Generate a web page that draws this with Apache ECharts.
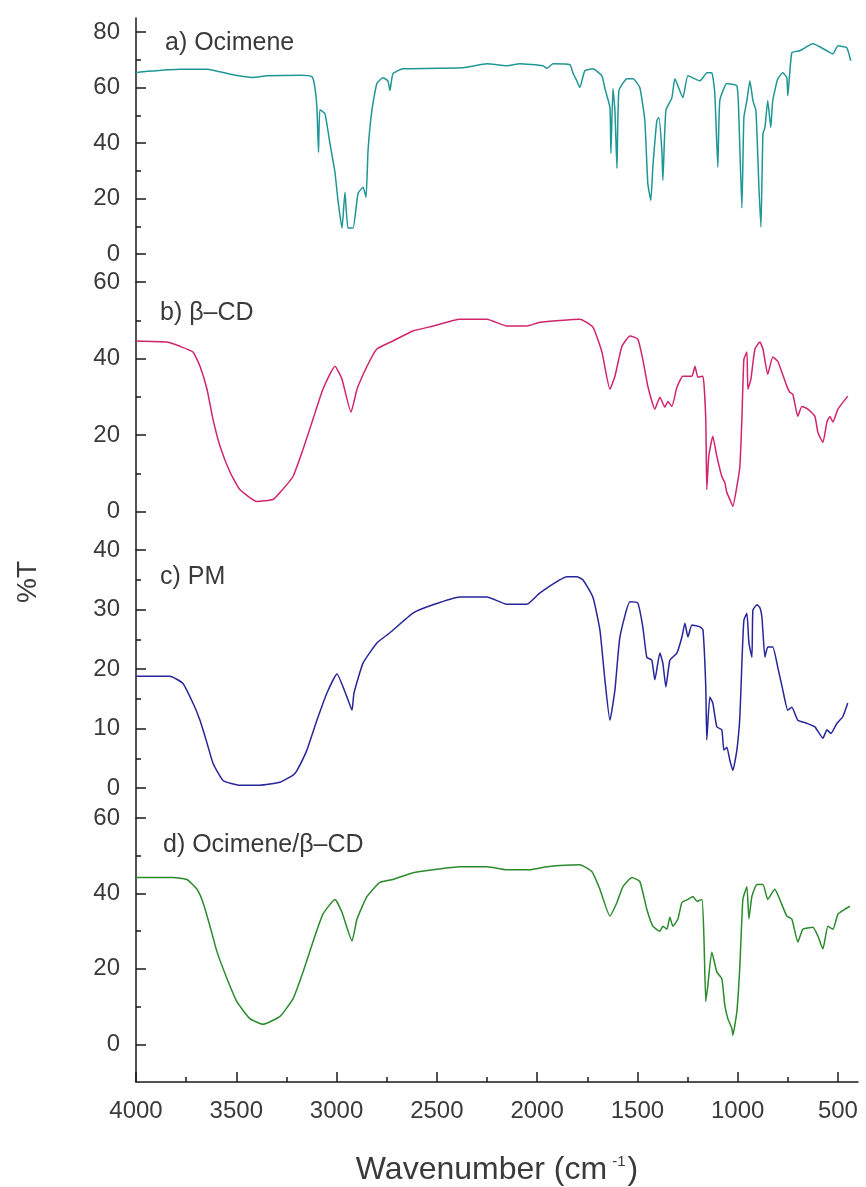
<!DOCTYPE html>
<html>
<head>
<meta charset="utf-8">
<script src="https://cdn.jsdelivr.net/npm/echarts@6/dist/echarts.min.js"></script>
<style>
  html, body { margin: 0; padding: 0; background: #ffffff; }
  #chart { width: 866px; height: 1187px; }
</style>
</head>
<body>
<div id="chart"></div>
<script>
// ---- data (wavenumber cm-1, %T) ----
const panelLabels = ['a) Ocimene', 'b) \u03b2\u2013CD', 'c) PM', 'd) Ocimene/\u03b2\u2013CD'];

const ocimene = [[4000,65.3],[3945,65.8],[3781,66.6],[3646,66.6],[3516,64.6],[3417,63.6],[3347,64.2],[3182,64.4],[3123,63.9],[3108,60],[3098,52.8],[3090,36.6],[3083,52],[3058,50.6],[3033,39.9],[3008,29.5],[2993,19.4],[2973,9.4],[2958,22.3],[2943,9.4],[2918,9.4],[2893,21.9],[2868,24.1],[2853,20.5],[2843,37.3],[2824,51.7],[2799,61.4],[2769,63.5],[2744,62.4],[2734,58.9],[2719,64.9],[2669,66.7],[2370,67.1],[2250,68.5],[2151,67.8],[2086,68.5],[1971,67.8],[1951,66.9],[1921,68.5],[1836,68.2],[1822,65.3],[1802,62.4],[1787,60],[1762,66],[1722,66.7],[1677,64.2],[1662,59.6],[1637,52.8],[1632,36.3],[1622,59.6],[1612,51.7],[1602,30.9],[1592,58.9],[1552,63.1],[1522,63.1],[1488,60],[1463,48.1],[1448,25.5],[1433,19.4],[1423,31.3],[1403,48.1],[1393,49.2],[1378,37.3],[1373,26.6],[1358,51.7],[1328,56.3],[1313,63.1],[1273,56.3],[1248,64.2],[1188,62.4],[1153,65.3],[1129,65.3],[1114,57.8],[1099,31.3],[1089,55.3],[1054,61.4],[1004,60.6],[994,49.2],[979,16.6],[969,49.2],[954,55.3],[939,62.4],[924,55.3],[909,51.7],[894,24.1],[884,9.8],[874,43.4],[864,45.6],[850,55.3],[835,45.6],[825,55.3],[800,63.1],[775,65.3],[755,63.5],[750,57],[730,72.5],[690,73.2],[625,75.7],[555,73.2],[525,72.1],[500,75],[456,74.3],[436,69.6]];

const betaCD = [[4000,44.6],[3845,44.3],[3781,43.2],[3716,41.7],[3681,38],[3646,32],[3616,24.1],[3581,17.1],[3531,10.3],[3482,5.8],[3397,2.7],[3317,3.2],[3282,5],[3217,9.2],[3167,16.3],[3118,24.1],[3068,32],[3008,38],[2973,34.6],[2928,26],[2898,32],[2848,38],[2799,42.5],[2719,44.6],[2619,47.2],[2519,48.5],[2385,50.3],[2250,50.3],[2151,48.5],[2051,48.5],[1986,49.5],[1787,50.3],[1722,48.2],[1677,41.7],[1637,32],[1612,35.4],[1577,43.2],[1537,45.9],[1498,45.1],[1473,39.8],[1448,32.8],[1413,26.8],[1388,29.9],[1363,27.3],[1348,28.8],[1328,27.5],[1303,32.5],[1273,35.4],[1228,35.4],[1213,38],[1198,35.1],[1173,35.4],[1159,24.1],[1154,5.8],[1144,14.5],[1124,19.7],[1104,14.5],[1079,9.2],[1064,7.6],[1054,5],[1039,3.2],[1024,1.4],[1004,6.6],[989,11.8],[979,24.1],[969,39.8],[954,41.7],[949,32],[934,34.6],[914,42.5],[889,44.3],[874,42.5],[850,35.9],[825,40.4],[800,39.3],[755,32.8],[740,31.2],[725,30.7],[700,24.9],[680,27.5],[650,26.8],[615,24.9],[600,20.7],[575,18.1],[555,23.4],[540,24.9],[525,23.4],[500,26.8],[451,30.2]];

const physicalMix = [[4000,18.8],[3831,18.8],[3766,17.6],[3716,14.3],[3681,11.4],[3646,7.6],[3616,4.2],[3566,1.3],[3482,0.5],[3382,0.5],[3282,1],[3217,2.2],[3197,3],[3148,6.4],[3098,11.4],[3048,16],[2998,19.2],[2948,15.3],[2923,13.1],[2913,16],[2868,21],[2799,24.4],[2734,26.1],[2619,29.4],[2519,30.8],[2385,32.1],[2250,32.1],[2151,30.9],[2051,30.9],[1986,32.8],[1851,35.5],[1802,35.5],[1772,35],[1722,32.1],[1687,26.6],[1662,18.2],[1637,11.4],[1612,16.5],[1587,25.4],[1537,31.3],[1498,31.1],[1473,27.1],[1453,22],[1428,21.5],[1413,18.2],[1388,22.7],[1373,21],[1358,17],[1338,21.5],[1303,22.7],[1278,25.4],[1263,27.7],[1248,25.4],[1228,27.4],[1188,27.1],[1173,26.6],[1159,17],[1154,8.1],[1139,15.3],[1124,14.3],[1104,10.3],[1079,9.8],[1069,6.4],[1054,6.9],[1039,4.7],[1024,3],[1004,6.4],[989,12],[979,21],[969,28.2],[954,29.4],[944,24.4],[929,22],[924,29.9],[904,30.8],[889,30.3],[879,28.7],[864,22],[850,23.7],[825,23.7],[800,20.3],[775,16.5],[750,13.1],[730,13.6],[700,11.4],[655,10.9],[615,10.3],[575,8.4],[555,9.8],[535,9.2],[505,10.9],[476,12],[451,14.3]];

const inclusion = [[4000,44.2],[3816,44.2],[3746,43.7],[3696,41.1],[3666,37.6],[3631,31.3],[3596,24.5],[3546,17.4],[3497,11.3],[3432,6.8],[3367,5.3],[3282,7.4],[3217,12.1],[3167,19.2],[3118,27.1],[3068,34.5],[3008,38.4],[2973,35],[2923,27.4],[2898,33.2],[2848,39.2],[2784,42.9],[2719,43.7],[2619,45.5],[2519,46.3],[2385,47.1],[2250,47.1],[2151,46.3],[2036,46.3],[1951,47.1],[1787,47.6],[1727,45.8],[1687,41.1],[1637,34],[1602,37.6],[1572,41.8],[1527,44.2],[1488,43.2],[1453,35.8],[1423,31.3],[1388,30],[1373,31.3],[1353,30.5],[1338,33.7],[1323,31.3],[1298,33.2],[1278,37.6],[1248,38.4],[1223,39.2],[1203,37.9],[1178,38.4],[1168,27.9],[1159,11.3],[1149,15.5],[1129,24.5],[1104,19.2],[1079,17.4],[1064,10.3],[1049,6.8],[1029,4.2],[1024,2.4],[1004,8.7],[989,20.8],[974,38.4],[954,41.8],[944,33.2],[929,39.2],[904,42.4],[874,42.4],[850,38.4],[815,41.1],[790,38.4],[755,34],[730,33.2],[700,27.1],[675,30.5],[625,31],[600,28.7],[575,25.3],[550,31.3],[525,30.5],[500,34.5],[466,35.8],[441,36.6]];

// tick labels
const xMajorTicks = [500, 1000, 1500, 2000, 2500, 3000, 3500, 4000];
const xMinorTicks = [750, 1250, 1750, 2250, 2750, 3250, 3750];
const yMajorA = [0, 20, 40, 60, 80];
const yMinorA = [10, 30, 50, 70];
const yMajorB = [0, 20, 40, 60];
const yMinorB = [-10, 10, 30, 50];
const yMajorC = [0, 10, 20, 30, 40];
const yMinorC = [5, 15, 25, 35];
const yMajorD = [0, 20, 40, 60];
const yMinorD = [10, 30, 50];

// ---- layout ----
const LEFT = 136, RIGHT = 8;
const grids = [
  { top: 18,  height: 264, min: -10, max: 85, major: yMajorA, minor: yMinorA },
  { top: 282, height: 268, min: -10, max: 60, major: yMajorB, minor: yMinorB },
  { top: 550, height: 268, min: -5,  max: 40, major: yMajorC, minor: yMinorC },
  { top: 818, height: 266, min: -10, max: 60, major: yMajorD, minor: yMinorD }
];
const colors = ['#1f9696', '#d0246f', '#26269a', '#2b8a2b'];
const seriesData = [ocimene, betaCD, physicalMix, inclusion];
const AXIS_COLOR = '#1a1a1a';
const LABEL_COLOR = '#3a3a3a';
const FONT = 'Liberation Sans, Arial, sans-serif';

const gridOpt = grids.map(g => ({ left: LEFT, right: RIGHT, top: g.top, height: g.height, containLabel: false }));

const xAxes = grids.map((g, i) => ({
  type: 'value', gridIndex: i, min: 400, max: 4000, inverse: true,
  show: i === 3,
  axisLine: { show: true, onZero: false, lineStyle: { color: AXIS_COLOR, width: 1.5 } },
  axisTick: { show: true, inside: true, length: 10, lineStyle: { color: AXIS_COLOR, width: 1.5 }, customValues: xMajorTicks },
  axisLabel: { show: true, customValues: xMajorTicks, formatter: v => String(v), margin: 17, color: LABEL_COLOR, fontSize: 24, fontFamily: FONT },
  splitLine: { show: false },
  name: i === 3 ? '{a|Wavenumber (cm}{s|-1}{a|)}' : '',
  nameLocation: 'middle', nameGap: 72,
  nameTextStyle: { rich: {
    a: { fontSize: 32, fontFamily: FONT, color: LABEL_COLOR },
    s: { fontSize: 15, fontFamily: FONT, color: LABEL_COLOR, verticalAlign: 'top', padding: [0, 2, 0, 5] }
  } }
}));
xAxes.push({
  type: 'value', gridIndex: 3, min: 400, max: 4000, inverse: true, position: 'bottom',
  axisLine: { show: false, onZero: false },
  axisTick: { show: true, inside: true, length: 5, lineStyle: { color: AXIS_COLOR, width: 1.5 }, customValues: xMinorTicks },
  axisLabel: { show: false },
  splitLine: { show: false }
});

const yAxes = grids.map((g, i) => ({
  type: 'value', gridIndex: i, min: g.min, max: g.max, position: 'left',
  axisLine: { show: true, onZero: false, lineStyle: { color: AXIS_COLOR, width: 1.5 } },
  axisTick: { show: true, inside: true, length: 10, lineStyle: { color: AXIS_COLOR, width: 1.5 }, customValues: g.major },
  axisLabel: { show: true, customValues: g.major, margin: 16, color: LABEL_COLOR, fontSize: 24, fontFamily: FONT },
  splitLine: { show: false }
}));
grids.forEach((g, i) => {
  yAxes.push({
    type: 'value', gridIndex: i, min: g.min, max: g.max, position: 'left', offset: 0,
    axisLine: { show: false, onZero: false },
    axisTick: { show: true, inside: true, length: 5, lineStyle: { color: AXIS_COLOR, width: 1.5 }, customValues: g.minor },
    axisLabel: { show: false },
    splitLine: { show: false }
  });
});

const series = seriesData.map((d, i) => ({
  type: 'line', xAxisIndex: i, yAxisIndex: i, data: d,
  showSymbol: false, symbol: 'none', smooth: 0.15,
  lineStyle: { color: colors[i], width: 1.5 },
  z: 3
}));

const labelPos = [[165, 43], [160, 313], [160, 577], [163, 845]];
const graphics = panelLabels.map((t, i) => ({
  type: 'text', x: labelPos[i][0], y: labelPos[i][1],
  style: { text: t, fontSize: 25, fontFamily: FONT, fill: LABEL_COLOR, textAlign: 'left', textVerticalAlign: 'middle' }
}));
graphics.push({
  type: 'text', x: 28, y: 582, rotation: Math.PI / 2,
  style: { text: '%T', fontSize: 28, fontFamily: FONT, fill: LABEL_COLOR, textAlign: 'center', textVerticalAlign: 'middle' }
});

const chart = echarts.init(document.getElementById('chart'), null, { renderer: 'canvas' });
chart.setOption({
  animation: false,
  backgroundColor: '#ffffff',
  grid: gridOpt,
  xAxis: xAxes,
  yAxis: yAxes,
  series: series,
  graphic: graphics
});
</script>
</body>
</html>
